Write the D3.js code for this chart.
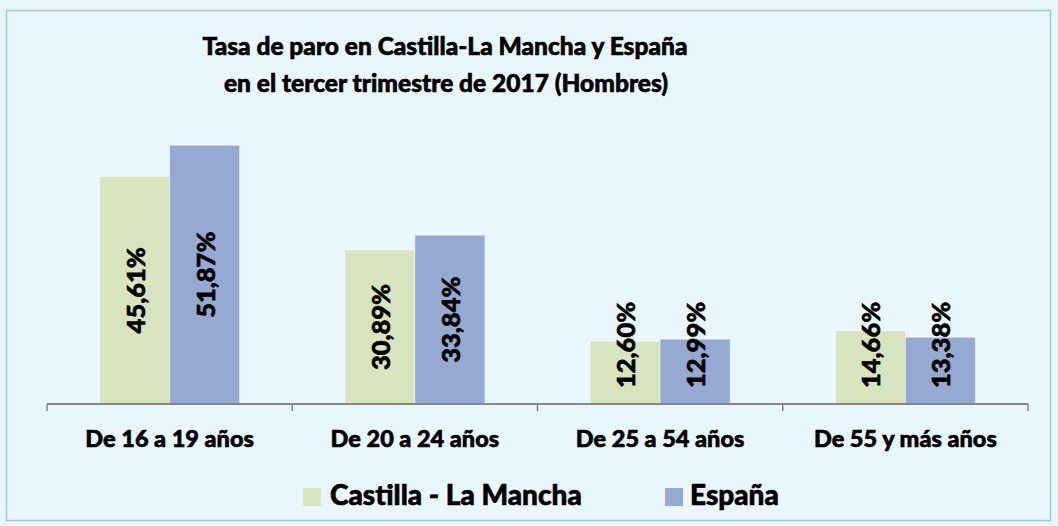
<!DOCTYPE html>
<html lang="es">
<head>
<meta charset="UTF-8">
<title>Tasa de paro</title>
<script src="https://cdn.jsdelivr.net/npm/d3@7"></script>
<style>
    * { margin: 0; }
    body { background: #eaf6fd; }
    svg { display: block; font-family: Lato, "Open Sans", sans-serif; font-weight: 900; }
    /* Lato Bold es algo más fina que la original, se engrosa con un trazo */
    svg text { fill: #000; stroke: #000; stroke-width: 0.6px; }
</style>
</head>
<body>
<div id="chart"></div>
<script>
    // datos
    var categorias = ['De 16 a 19 años', 'De 20 a 24 años', 'De 25 a 54 años', 'De 55 y más años'];
    var series = ['Castilla - La Mancha', 'España'];
    var clm = [45.61, 30.89, 12.60, 14.66];
    var espana = [51.87, 33.84, 12.99, 13.38];
    var colores = ['#d7e4bd', '#95a9d1'];

    var W = 1058, H = 526;
    var svg = d3.select('#chart').append('svg').attr('width', W).attr('height', H);

    svg.append('rect').attr('x', 0).attr('y', 0).attr('width', W).attr('height', H).attr('fill', '#eaf6fd');
    svg.append('rect').attr('x', 6.5).attr('y', 10.5).attr('width', 1044).attr('height', 510)
        .attr('fill', 'none').attr('stroke', '#9ec2e8').attr('stroke-width', 1.5);

    // titulo
    var title = svg.append('text').attr('text-anchor', 'middle').attr('font-size', 24.5);
    title.append('tspan').attr('x', 445).attr('y', 55).text('Tasa de paro en Castilla-La Mancha y España');
    title.append('tspan').attr('x', 446).attr('y', 92).text('en el tercer trimestre de 2017 (Hombres)');

    var x0 = d3.scaleBand().domain(categorias).range([47, 1028]).paddingInner(0).paddingOuter(0);
    var x1 = d3.scaleBand().domain(series).range([0, 140]);
    var y = d3.scaleLinear().domain([0, 60]).range([404, 404 - 60 * 4.988]);

    var datos = categorias.map(function (c, i) {
        return { cat: c, vals: [clm[i], espana[i]] };
    });

    var grupos = svg.selectAll('g.grupo').data(datos).enter().append('g')
        .attr('class', 'grupo')
        .attr('transform', function (d) { return 'translate(' + (x0(d.cat) + (x0.bandwidth() - 140) / 2) + ',0)'; });

    grupos.selectAll('rect').data(function (d) { return d.vals; }).enter().append('rect')
        .attr('x', function (d, i) { return x1(series[i]); })
        .attr('y', function (d) { return y(d); })
        .attr('width', x1.bandwidth())
        .attr('height', function (d) { return y(0) - y(d); })
        .attr('fill', function (d, i) { return colores[i]; })
        .attr('stroke', 'rgba(255,255,255,0.45)').attr('stroke-width', 1);

    // etiquetas giradas
    grupos.selectAll('text.val').data(function (d) { return d.vals; }).enter().append('text')
        .attr('class', 'val')
        .attr('font-size', 25.5)
        .attr('text-anchor', 'middle')
        .attr('dominant-baseline', 'central')
        .text(function (d) { return d.toFixed(2).replace('.', ',') + '%'; })
        .each(function (d, i) {
            var len = this.getComputedTextLength();
            var cx = x1(series[i]) + x1.bandwidth() / 2;
            var cy = Math.min((y(d) + y(0)) / 2, y(0) - 16 - len / 2);
            d3.select(this).attr('transform', 'translate(' + cx + ',' + cy + ') rotate(-90)');
        });

    // eje
    var eje = svg.append('g').attr('transform', 'translate(0,404)');
    eje.append('line').attr('x1', 47).attr('x2', 1028).attr('stroke', '#868686').attr('stroke-width', 2);
    var ticks = d3.range(categorias.length + 1).map(function (i) { return 47 + i * x0.step(); });
    eje.selectAll('line.tick').data(ticks).enter().append('line')
        .attr('x1', function (d) { return d; }).attr('x2', function (d) { return d; })
        .attr('y1', 0).attr('y2', 7).attr('stroke', '#868686').attr('stroke-width', 1.5);
    eje.selectAll('text').data(categorias).enter().append('text')
        .attr('x', function (d) { return x0(d) + x0.bandwidth() / 2; })
        .attr('y', 43).attr('text-anchor', 'middle').attr('font-size', 23.5)
        .text(function (d) { return d; });

    // leyenda
    var leyenda = [{ x: 303, tx: 330 }, { x: 665, tx: 690 }];
    var ley = svg.selectAll('g.ley').data(series).enter().append('g').attr('class', 'ley');
    ley.append('rect').attr('x', function (d, i) { return leyenda[i].x; }).attr('y', 488)
        .attr('width', 18).attr('height', 18).attr('fill', function (d, i) { return colores[i]; });
    ley.append('text').attr('x', function (d, i) { return leyenda[i].tx; }).attr('y', 505)
        .attr('font-size', 28).text(function (d) { return d; });
</script>
</body>
</html>
